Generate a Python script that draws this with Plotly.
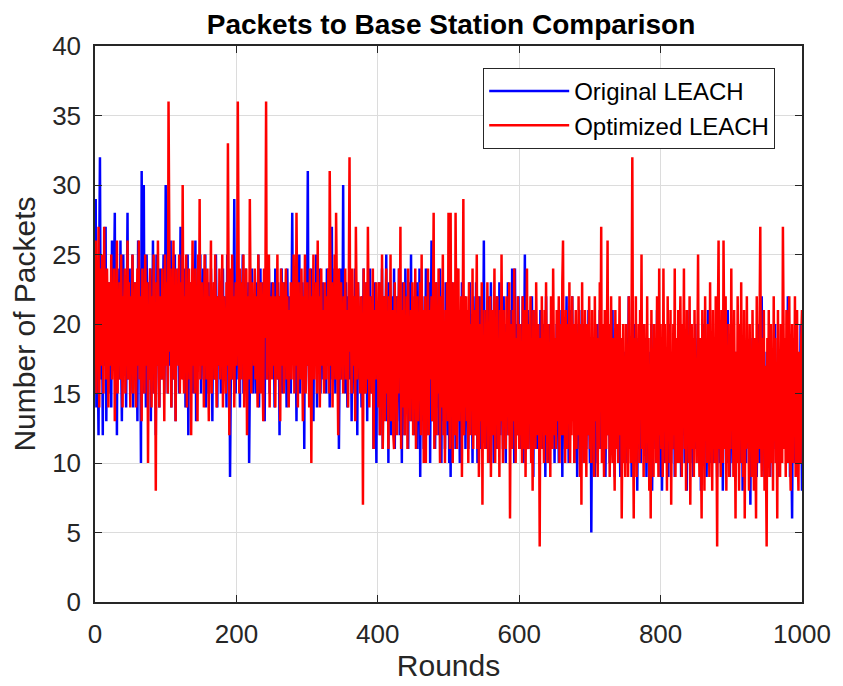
import plotly.graph_objects as go

rounds = list(range(1, 1001))

original_leach = [
    29,14,22,18,12,25,32,19,16,21,12,24,20,17,27,13,22,19,15,23,18,21,14,26,20,
    17,23,28,15,20,12,24,19,22,16,26,18,13,21,25,17,20,23,14,22,28,16,19,24,15,
    21,18,25,14,20,23,16,22,19,13,26,17,24,20,10,31,22,15,30,18,21,14,25,19,23,
    16,20,24,13,22,18,26,15,21,19,12,25,17,23,20,14,24,18,22,16,21,25,15,19,30,
    18,22,15,24,20,17,26,14,21,19,23,16,25,13,20,22,18,24,15,21,27,17,19,23,16,
    20,24,14,22,18,25,12,21,19,23,16,20,24,15,22,18,26,13,21,19,23,17,20,25,15,
    22,18,24,16,20,25,14,21,19,23,15,22,17,24,20,13,21,18,23,16,25,19,14,22,20,
    17,23,15,21,19,24,16,22,18,20,14,25,17,21,23,9,19,22,16,24,20,29,18,15,22,
    19,24,16,21,14,23,18,20,25,15,22,17,24,19,21,13,23,10,18,22,16,24,20,15,21,
    18,23,15,22,20,25,14,19,24,17,21,16,23,19,13,22,18,25,16,20,24,15,21,19,23,
    17,22,19,14,24,18,21,16,23,20,12,22,19,24,15,21,17,23,18,20,14,24,19,16,22,
    20,15,23,28,18,21,16,24,19,13,22,20,17,25,15,21,18,23,16,20,11,24,19,17,22,
    31,18,15,22,20,24,16,21,13,23,19,17,25,14,20,22,18,24,15,21,19,23,16,20,18,
    22,15,24,19,17,21,14,23,20,27,16,22,18,24,15,20,23,17,21,11,19,24,16,22,18,
    30,17,21,15,23,19,14,22,18,24,16,20,13,22,19,21,15,24,17,20,12,23,18,16,21,
    19,14,22,17,24,15,20,18,23,13,21,16,19,24,15,22,18,20,11,17,23,16,10,21,18,
    15,23,12,20,17,24,11,19,22,14,18,25,13,21,10,23,16,19,12,22,17,14,24,11,20,
    22,13,19,16,24,12,21,17,10,23,15,20,12,24,18,14,21,11,19,23,16,25,13,20,17,
    12,22,18,14,23,11,20,16,24,9,19,13,22,17,11,21,15,24,12,20,18,14,23,10,19,
    26,13,20,16,22,11,18,23,14,21,12,19,24,15,10,22,17,13,20,11,23,16,19,12,21,
    10,20,9,17,23,12,19,15,22,11,18,24,13,20,16,10,21,14,23,12,18,15,22,11,19,
    14,21,11,18,23,13,20,16,10,22,15,19,12,23,17,10,20,14,22,11,18,21,13,17,26,
    15,21,11,19,14,22,10,18,16,23,12,20,15,10,21,13,19,22,11,17,14,23,12,20,16,
    19,11,22,14,17,10,20,15,23,12,18,13,21,11,24,16,19,10,24,14,20,12,18,22,13,
    17,11,20,14,22,10,18,25,12,19,15,21,11,17,13,20,10,22,14,9,18,12,21,15,11,
    19,12,17,10,21,14,18,11,20,13,16,9,22,12,17,15,10,20,13,18,11,21,14,16,10,
    18,11,20,13,16,10,21,14,12,19,9,17,13,20,11,16,22,12,18,10,15,21,13,17,22,
    14,19,10,17,12,20,9,16,13,21,11,18,12,15,20,10,17,13,19,11,16,12,21,14,10,
    17,5,14,19,11,16,9,18,13,20,10,15,12,21,14,11,18,10,16,13,19,9,15,12,20,
    13,17,10,19,12,15,21,11,16,9,18,12,14,20,10,17,13,9,19,11,15,12,18,10,16,
    12,19,10,16,22,11,14,18,9,17,12,20,10,15,13,19,8,16,11,18,13,10,17,12,20,
    11,16,13,19,9,15,12,18,10,17,13,20,8,14,11,19,12,16,10,21,15,11,18,13,9,
    17,8,15,12,19,10,14,18,11,16,9,20,12,15,10,18,13,11,17,9,14,19,12,16,10,
    15,11,18,9,14,20,12,16,10,19,13,8,17,11,15,21,10,14,12,18,9,16,13,20,11,
    16,12,19,10,14,17,8,15,12,20,11,16,13,18,9,14,21,11,17,10,15,12,19,13,10,
    14,18,11,16,9,20,12,15,10,17,13,19,8,14,11,18,12,16,10,21,13,15,9,17,12,
    16,10,19,12,14,9,18,11,15,13,20,10,16,12,17,8,14,19,11,15,10,18,13,16,11,
    15,7,17,12,19,10,14,16,11,18,9,15,13,20,10,16,12,22,14,11,17,9,15,12,18,
    11,16,13,19,9,15,12,18,10,17,14,20,11,13,16,9,18,12,15,10,17,13,19,11,14,
    17,12,15,10,22,13,16,9,18,11,6,15,12,19,10,16,13,18,9,14,17,11,20,15,8,
]

optimized_leach = [
    26,15,23,19,27,14,21,24,17,25,20,15,27,18,22,16,24,19,14,23,21,17,25,16,22,
    19,24,13,21,17,26,15,22,19,23,16,25,18,14,22,20,24,15,21,18,26,16,23,19,14,
    22,18,25,15,21,19,23,14,20,24,17,26,16,22,19,13,24,18,21,15,25,20,17,23,10,
    21,16,24,19,14,22,18,25,15,20,8,23,17,26,19,14,22,20,16,24,18,21,13,25,19,
    17,23,15,36,20,18,24,14,22,19,26,16,21,13,24,18,22,17,25,15,20,23,16,30,19,
    15,22,18,25,14,21,19,24,16,23,12,20,26,17,22,15,24,19,21,13,25,18,29,16,20,
    23,17,21,14,25,19,22,16,24,18,13,22,20,26,15,21,18,23,16,25,19,14,22,20,17,
    24,16,21,19,25,14,22,18,20,15,23,17,33,19,12,24,21,16,25,18,22,14,20,23,17,
    21,36,18,15,24,20,16,23,19,25,14,21,17,24,12,22,19,16,29,20,15,23,18,21,17,
    24,16,22,19,14,25,18,21,15,23,20,17,13,24,19,22,36,16,21,18,25,14,22,19,16,
    20,23,17,22,14,21,19,25,16,22,18,13,24,20,17,23,15,21,19,24,16,22,18,14,21,
    18,23,16,21,19,25,15,22,17,28,20,14,23,18,21,16,24,19,13,22,18,25,15,20,23,
    17,21,14,24,19,10,22,18,25,16,21,19,23,15,26,18,22,14,20,24,17,21,19,15,23,
    19,16,22,18,24,15,31,20,17,23,14,21,19,25,16,28,22,18,12,24,20,16,23,19,21,
    15,22,18,24,16,21,19,14,23,32,18,21,15,24,19,17,22,13,27,20,16,23,18,21,15,
    22,17,20,7,24,18,21,15,23,16,27,19,14,22,18,20,15,24,11,19,21,16,23,18,20,
    14,23,12,21,17,25,11,19,22,13,18,24,15,20,11,22,17,25,13,19,21,12,11,23,16,
    20,12,22,15,24,17,27,11,21,14,19,23,12,20,16,22,11,24,15,18,13,21,17,23,12,
    21,14,24,11,19,22,13,20,16,23,12,25,14,21,10,18,22,10,20,15,24,12,21,16,19,
    22,13,20,28,11,19,23,12,21,15,24,17,10,22,14,20,25,12,18,10,21,15,23,13,28,
    16,11,28,14,21,10,23,17,12,28,20,11,18,24,13,21,15,22,9,19,29,12,20,14,22,
    13,21,10,23,17,12,20,15,24,11,19,21,12,18,25,11,22,9,16,20,13,23,7,19,12,
    21,11,18,14,23,10,20,13,22,9,17,21,12,19,24,10,20,14,22,11,18,9,21,13,25,
    17,10,21,13,19,11,22,14,18,12,23,6,16,20,11,21,13,24,15,10,19,12,22,16,11,
    20,12,18,10,22,14,11,21,9,17,24,13,11,20,15,22,10,19,8,21,13,17,11,23,14,
    12,20,15,4,19,11,22,13,17,10,21,12,23,15,10,20,13,18,9,22,14,11,24,16,12,
    19,11,21,13,17,22,10,20,14,12,23,26,12,18,10,21,15,11,20,13,23,10,18,12,22,
    13,20,10,17,21,11,19,12,22,15,9,20,7,23,12,18,10,21,14,9,20,12,17,22,11,
    18,10,21,12,17,9,22,13,20,15,9,19,11,23,16,27,10,20,13,9,21,14,11,18,26,
    12,20,9,17,22,13,10,19,15,8,21,11,18,20,10,16,22,12,19,6,13,20,10,17,9,
    20,12,18,9,22,11,17,10,21,32,14,6,19,11,22,9,17,13,20,10,21,14,25,11,18,
    9,20,13,17,10,22,12,19,8,16,6,21,11,18,9,20,13,19,10,22,15,9,24,12,20,
    11,19,9,24,14,20,10,18,8,22,13,19,10,21,7,17,11,20,12,24,9,19,14,10,21,
    10,18,22,13,9,20,14,24,11,19,8,21,12,17,10,22,7,15,20,11,19,9,21,13,17,
    10,20,25,13,9,19,11,6,21,14,18,8,22,12,19,10,20,15,9,23,12,17,8,21,11,
    19,10,22,13,4,20,26,11,17,9,21,14,10,26,18,11,22,8,17,12,20,9,16,11,24,
    13,19,9,21,11,6,18,10,22,14,8,20,12,23,10,19,9,21,6,15,11,22,13,17,8,
    20,11,18,9,21,14,8,19,12,6,22,10,17,11,20,27,13,9,19,11,21,8,17,10,4,
    19,11,21,9,16,20,10,18,8,22,13,19,10,15,6,21,11,17,9,20,13,10,27,14,11,
    19,9,21,12,10,18,22,11,8,16,20,10,19,12,22,9,15,21,11,8,18,13,10,19,21,
]

x_ticks = [0, 200, 400, 600, 800, 1000]
y_ticks = [0, 5, 10, 15, 20, 25, 30, 35, 40]

FONT = "Liberation Sans, Arial, sans-serif"

# the page adds an 8px body margin, so the figure is offset by 8px
W, H = 835, 678

fig = go.Figure()
fig.add_trace(go.Scatter(x=rounds, y=original_leach, mode="lines",
                         name="Original LEACH",
                         line=dict(color="#0000FF", width=2.5)))
fig.add_trace(go.Scatter(x=rounds, y=optimized_leach, mode="lines",
                         name="Optimized LEACH",
                         line=dict(color="#FF0000", width=2.5)))

axis_common = dict(
    showline=True, linecolor="#262626", linewidth=1.5, mirror="ticks",
    ticks="inside", ticklen=7, tickcolor="#262626", tickwidth=1,
    showgrid=True, gridcolor="#DCDCDC", gridwidth=1, zeroline=False,
    tickfont=dict(family=FONT, size=26, color="#262626"),
)

fig.update_layout(
    width=W, height=H,
    margin=dict(l=87, r=36, t=38, b=81),
    paper_bgcolor="white", plot_bgcolor="white",
    title=dict(text="<b>Packets to Base Station Comparison</b>",
               x=(87 + 799) / 2 / W, xanchor="center",
               y=1 - 16 / H, yanchor="middle",
               font=dict(family=FONT, size=28, color="black")),
    xaxis=dict(range=[0, 1000], tickvals=x_ticks, ticklabelstandoff=8,
               title=dict(text="Rounds", font=dict(family=FONT, size=30, color="#262626"),
                          standoff=4),
               **axis_common),
    yaxis=dict(range=[0, 40], tickvals=y_ticks, ticklabelstandoff=7,
               title=dict(text="Number of Packets", font=dict(family=FONT, size=30, color="#262626"),
                          standoff=8),
               **axis_common),
    legend=dict(x=(780 - 95) / 712, y=1 - 22 / 559, xanchor="right", yanchor="top",
                bgcolor="white", bordercolor="#262626", borderwidth=1,
                font=dict(family=FONT, size=24, color="black"),
                itemwidth=80, tracegroupgap=0),
    showlegend=True,
)

fig.write_html("out.html")
